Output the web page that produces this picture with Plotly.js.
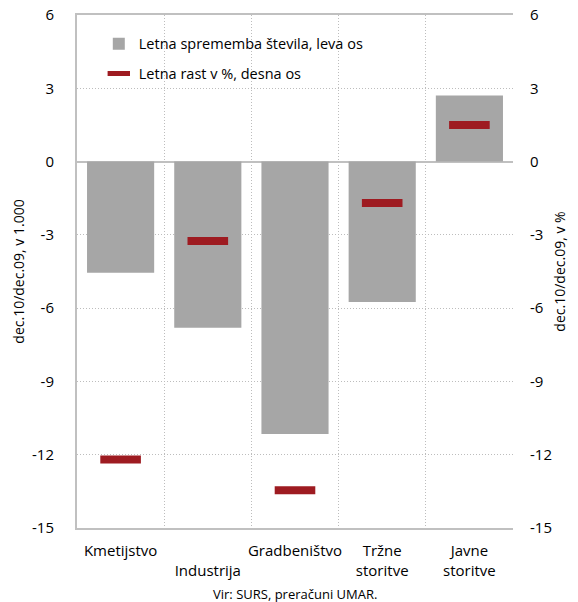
<!DOCTYPE html>
<html>
<head>
<meta charset="utf-8">
<script src="https://cdn.plot.ly/plotly-3.0.1.min.js"></script>
<style>html,body{margin:0;padding:0;background:#fff;}#chart{width:578px;height:602px;}</style>
</head>
<body>
<div id="chart"></div>
<script>
const categories = ["Kmetijstvo", "Industrija", "Gradbeništvo", "Tržne storitve", "Javne storitve"];
const tickLabels = ["Kmetijstvo", "<br>Industrija", "Gradbeništvo", "Tržne<br>storitve", "Javne<br>storitve"];
const changeThousands = [-4.55, -6.8, -11.15, -5.75, 2.7];
const growthPct = [-12.2, -3.25, -13.45, -1.7, 1.5];
const seriesNames = ["Letna sprememba števila, leva os", "Letna rast v %, desna os"];
const yTicks = [-15, -12, -9, -6, -3, 0, 3, 6];
const yTickText = ["-15", "-12", "-9", "-6", "-3", "0", "3", "6"];

const font = "Open Sans, sans-serif";
const traces = [
  {
    type: "bar", x: categories, y: changeThousands, name: seriesNames[0], legendgroup: "a",
    marker: {color: "#a6a6a6"}, width: 0.77, yaxis: "y"
  },
  {
    type: "scatter", mode: "markers", x: categories, y: growthPct, name: seriesNames[1], legendgroup: "b",
    yaxis: "y2",
    marker: {symbol: "line-ew-open", size: 29, color: "#9e1b21", line: {color: "#9e1b21", width: 8}}
  }
];
const layout = {
  width: 578, height: 602,
  margin: {l: 77, r: 65, t: 15, b: 74},
  paper_bgcolor: "#fff", plot_bgcolor: "#fff",
  font: {family: font, size: 14, color: "#000"},
  showlegend: true,
  legend: {x: 0.05, y: 0.975, xanchor: "left", yanchor: "top", bgcolor: "rgba(0,0,0,0)",
           font: {family: font, size: 14.5}, traceorder: "grouped", tracegroupgap: 8, itemwidth: 30},
  bargap: 0.23,
  xaxis: {
    type: "category", categoryorder: "array", categoryarray: categories,
    tickvals: categories, ticktext: tickLabels, tickson: "boundaries", tickangle: 0,
    ticks: "", showgrid: true, griddash: "1px,2px", gridcolor: "#bdbdbd", gridwidth: 1,
    showline: true, linecolor: "#c0c0c0", linewidth: 2, mirror: true,
    tickfont: {family: font, size: 15}, ticklabelstandoff: 8
  },
  yaxis: {
    range: [-15, 6], tickvals: yTicks, ticktext: yTickText, ticks: "",
    showgrid: true, griddash: "1px,2px", gridcolor: "#bdbdbd", gridwidth: 1,
    zeroline: true, zerolinecolor: "#c0c0c0", zerolinewidth: 2,
    showline: true, linecolor: "#c0c0c0", linewidth: 2,
    tickfont: {family: font, size: 15}, ticklabelstandoff: 18,
    title: {text: "dec.10/dec.09, v 1.000", font: {family: font, size: 14}, standoff: 4}
  },
  yaxis2: {
    overlaying: "y", side: "right", range: [-15, 6], tickvals: yTicks, ticktext: yTickText, ticks: "",
    showgrid: false, zeroline: false, showline: false,
    tickfont: {family: font, size: 15}, ticklabelstandoff: 16,
    title: {text: "dec.10/dec.09, v %", font: {family: font, size: 14}, standoff: 4}
  },
  annotations: [{
    text: "Vir: SURS, preračuni UMAR.", xref: "paper", yref: "paper",
    x: 0.5, y: 0, yshift: -55, xanchor: "center", yanchor: "top", showarrow: false,
    font: {family: font, size: 13}
  }]
};
Plotly.newPlot("chart", traces, layout, {displayModeBar: false, staticPlot: true});
</script>
</body>
</html>
